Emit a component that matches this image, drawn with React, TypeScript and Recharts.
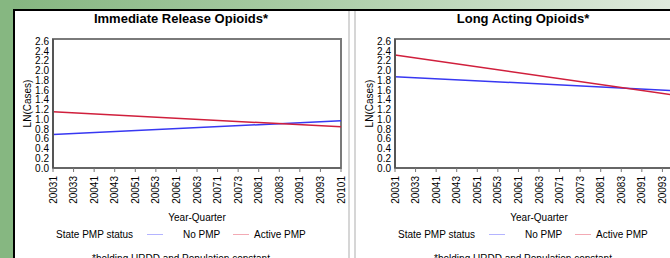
import React from 'react';
import { LineChart, Line, XAxis, YAxis, ReferenceArea } from 'recharts';

// quarter categories on the x axis (every other one is labelled)
const quarters = [
  '20031', '20032', '20033', '20034',
  '20041', '20042', '20043', '20044',
  '20051', '20052', '20053', '20054',
  '20061', '20062', '20063', '20064',
  '20071', '20072', '20073', '20074',
  '20081', '20082', '20083', '20084',
  '20091', '20092', '20093', '20094',
  '20101',
];

const yTicks = [0, 0.2, 0.4, 0.6, 0.8, 1.0, 1.2, 1.4, 1.6, 1.8, 2.0, 2.2, 2.4, 2.6];

// fitted lines: value at first and last quarter
const lineQuarters = ['20031', '20101'];
const irNoPmp = [0.69, 0.97];
const irActivePmp = [1.155, 0.845];
const laNoPmp = [1.875, 1.58];
const laActivePmp = [2.32, 1.47];

const FONT = '"Liberation Sans", Arial, sans-serif';
const BLUE = '#3838f2';
const RED = '#d01f3c';
const Y_MAX = 2.65;

const buildRows = (noPmp: number[], activePmp: number[]) =>
  quarters.map(q => {
    const i = lineQuarters.indexOf(q);
    return {
      quarter: q,
      noPmp: i >= 0 ? noPmp[i] : null,
      activePmp: i >= 0 ? activePmp[i] : null,
    };
  });

const QuarterTick = ({ x, y, payload }: any) => (
  <g transform={`translate(${x},${y})`}>
    <text transform="rotate(-90)" textAnchor="end" dy="0.35em" fontSize={10} fill="#000" fontFamily={FONT}>
      {payload.value}
    </text>
  </g>
);

interface PanelProps {
  left: number;
  title: string;
  noPmp: number[];
  activePmp: number[];
}

const Panel: React.FC<PanelProps> = ({ left, title, noPmp, activePmp }) => {
  const rows = buildRows(noPmp, activePmp);
  return (
    <div style={{ position: 'absolute', left, top: 0, width: 334, height: 258 }}>
      <div style={{ position: 'absolute', left: 0, top: 11, width: 334, textAlign: 'center', fontSize: 13, lineHeight: '15px', fontWeight: 'bold', color: '#000' }}>
        {title}
      </div>
      <div style={{ position: 'absolute', left: 0, top: 0 }}>
        <LineChart width={334} height={258} data={rows} margin={{ top: 39, right: 7, bottom: 30, left: 0 }}>
          <ReferenceArea y1={0} y2={Y_MAX} fill="none" stroke="#7a7a7a" strokeWidth={2} ifOverflow="visible" />
          <XAxis
            dataKey="quarter"
            interval={1}
            height={60}
            tickSize={4}
            tickMargin={4}
            tick={<QuarterTick />}
            axisLine={{ stroke: '#666', strokeWidth: 2 }}
            tickLine={{ stroke: '#777' }}
            label={{ value: 'Year-Quarter', position: 'insideBottom', offset: 7, fontSize: 10, fill: '#000', fontFamily: FONT }}
          />
          <YAxis
            type="number"
            domain={[0, Y_MAX]}
            ticks={yTicks}
            interval={0}
            width={39}
            tickSize={0}
            tickMargin={4}
            tickFormatter={(v: number) => v.toFixed(1)}
            tick={{ fontSize: 10, fill: '#000', fontFamily: FONT }}
            axisLine={{ stroke: '#555', strokeWidth: 2 }}
            tickLine={false}
            label={{ value: 'LN(Cases)', angle: -90, position: 'insideLeft', offset: 13, fontSize: 10, fill: '#000', fontFamily: FONT, style: { textAnchor: 'middle' } }}
          />
          <Line type="linear" dataKey="noPmp" stroke={BLUE} strokeWidth={1.5} dot={false} connectNulls isAnimationActive={false} />
          <Line type="linear" dataKey="activePmp" stroke={RED} strokeWidth={1.5} dot={false} connectNulls isAnimationActive={false} />
        </LineChart>
      </div>
      <div style={{ position: 'absolute', top: 229, left: 0, width: 334, height: 12, fontSize: 10, lineHeight: '12px', color: '#000' }}>
        <span style={{ position: 'absolute', left: 42 }}>State PMP status</span>
        <span style={{ position: 'absolute', left: 133, top: 5, width: 16, height: 1, background: '#b4b4ff' }} />
        <span style={{ position: 'absolute', left: 169 }}>No PMP</span>
        <span style={{ position: 'absolute', left: 219, top: 5, width: 16, height: 1, background: '#f3aab4' }} />
        <span style={{ position: 'absolute', left: 240 }}>Active PMP</span>
      </div>
      <div style={{ position: 'absolute', left: 0, top: 253, width: 334, textAlign: 'center', fontSize: 10, lineHeight: '12px', color: '#000' }}>
        *holding URDD and Population constant
      </div>
    </div>
  );
};

export default function App() {
  return (
    <div style={{ position: 'absolute', left: 0, top: 0, width: 670, height: 258, overflow: 'hidden', fontFamily: FONT, background: 'linear-gradient(to right, #84b57f 0%, #a9cca5 45%, #dfeadd 100%)' }}>
      <div style={{ position: 'absolute', left: 0, top: 0, width: 13, height: 258, background: '#86b781' }} />
      <div style={{ position: 'absolute', left: 13, top: 9, right: 0, bottom: 0, background: '#fff', borderTop: '2px solid #000', borderLeft: '2px solid #000' }} />
      <div style={{ position: 'absolute', left: 348, top: 11, width: 2, height: 247, background: '#d6d6d6' }} />
      <div style={{ position: 'absolute', left: 354, top: 11, width: 2, height: 247, background: '#d6d6d6' }} />
      <Panel left={14} title="Immediate Release Opioids*" noPmp={irNoPmp} activePmp={irActivePmp} />
      <Panel left={356} title="Long Acting Opioids*" noPmp={laNoPmp} activePmp={laActivePmp} />
    </div>
  );
}
